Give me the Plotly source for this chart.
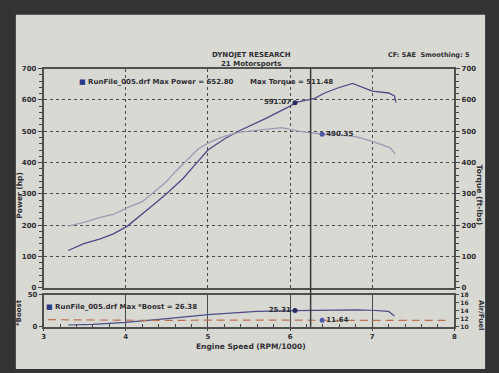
import plotly.graph_objects as go

# ---------------- data ----------------
rpm_power = [3.30, 3.49, 3.69, 3.85, 4.02, 4.20, 4.37, 4.52, 4.70, 4.85, 5.00, 5.20, 5.37, 5.70, 6.00, 6.06, 6.30, 6.42, 6.58, 6.76, 7.00, 7.20, 7.27, 7.29]
power_hp  = [119, 141, 156, 172, 197, 234, 272, 306, 350, 395, 440, 475, 500, 540, 580, 591.07, 605, 622, 638, 652.8, 628, 622, 613, 591]

rpm_torque = [3.30, 3.49, 3.69, 3.85, 4.02, 4.20, 4.33, 4.49, 4.60, 4.75, 4.88, 5.00, 5.17, 5.37, 5.60, 5.90, 6.10, 6.40, 6.60, 6.81, 7.02, 7.15, 7.22, 7.28]
torque_ftlb = [197, 209, 225, 234, 256, 275, 303, 338, 370, 410, 443, 462, 481, 496, 503, 511.48, 500, 490.35, 488, 482, 466, 455, 447, 427]

rpm_boost = [3.30, 3.60, 4.00, 4.30, 4.60, 5.00, 5.30, 5.60, 6.06, 6.40, 6.80, 7.00, 7.20, 7.27]
boost_psi = [3, 4, 7, 10, 14, 19, 22, 24, 25.31, 26, 26.38, 25.8, 24, 17]

rpm_afr = [3.05, 3.50, 4.00, 4.50, 5.00, 5.50, 6.00, 6.39, 7.00, 7.50, 7.95]
afr = [11.8, 11.7, 11.7, 11.6, 11.7, 11.7, 11.6, 11.64, 11.7, 11.6, 11.6]

cursor_rpm = 6.25
power_mark = (6.06, 591.07)
torque_mark = (6.39, 490.35)
boost_mark = (6.06, 25.31)
afr_mark = (6.39, 11.64)

x_ticks = [3, 4, 5, 6, 7, 8]
main_ticks = [0, 100, 200, 300, 400, 500, 600, 700]
boost_ticks = [0, 50]
afr_ticks = [10, 12, 14, 16, 18]

# ---------------- style ----------------
W, H = 499, 373
FONT = "DejaVu Sans"
TXT = "#2e2e34"
PWR = "#4b4b88"
TRQ = "#9a9ab4"
AFRC = "#c0704e"
PAGE = "#d9d9d3"


def px(x):
    return x / W


def py(y):
    return 1 - y / H


X_DOM = [px(42), px(457)]
MAIN_DOM = [py(290), py(66)]
BOOST_DOM = [py(330), py(297)]

fig = go.Figure()

fig.add_trace(go.Scatter(x=rpm_torque, y=torque_ftlb, mode="lines", line=dict(color=TRQ, width=1.3),
                         xaxis="x", yaxis="y2", showlegend=False, hoverinfo="skip"))
fig.add_trace(go.Scatter(x=rpm_power, y=power_hp, mode="lines", line=dict(color=PWR, width=1.3),
                         xaxis="x", yaxis="y", showlegend=False, hoverinfo="skip"))
fig.add_trace(go.Scatter(x=[power_mark[0]], y=[power_mark[1]], mode="markers+text",
                         text=[f"{power_mark[1]:.2f}"], textposition="middle left",
                         marker=dict(color="#2a2a60", size=5),
                         textfont=dict(family=FONT, size=7, color=TXT, weight="bold"),
                         xaxis="x", yaxis="y", showlegend=False, hoverinfo="skip"))
fig.add_trace(go.Scatter(x=[torque_mark[0]], y=[torque_mark[1]], mode="markers+text",
                         text=[f"{torque_mark[1]:.2f}"], textposition="middle right",
                         marker=dict(color="#4a5aa8", size=5),
                         textfont=dict(family=FONT, size=7, color=TXT, weight="bold"),
                         xaxis="x", yaxis="y2", showlegend=False, hoverinfo="skip"))

fig.add_trace(go.Scatter(x=rpm_afr, y=afr, mode="lines", line=dict(color=AFRC, width=1.2, dash="8px,5px"),
                         xaxis="x2", yaxis="y4", showlegend=False, hoverinfo="skip"))
fig.add_trace(go.Scatter(x=rpm_boost, y=boost_psi, mode="lines", line=dict(color=PWR, width=1.2),
                         xaxis="x2", yaxis="y3", showlegend=False, hoverinfo="skip"))
fig.add_trace(go.Scatter(x=[boost_mark[0]], y=[boost_mark[1]], mode="markers+text",
                         text=[f"{boost_mark[1]:.2f}"], textposition="middle left",
                         marker=dict(color="#2a2a60", size=5),
                         textfont=dict(family=FONT, size=7, color=TXT, weight="bold"),
                         xaxis="x2", yaxis="y3", showlegend=False, hoverinfo="skip"))
fig.add_trace(go.Scatter(x=[afr_mark[0]], y=[afr_mark[1]], mode="markers+text",
                         text=[f"{afr_mark[1]:.2f}"], textposition="middle right",
                         marker=dict(color="#4a5aa8", size=5),
                         textfont=dict(family=FONT, size=7, color=TXT, weight="bold"),
                         xaxis="x2", yaxis="y4", showlegend=False, hoverinfo="skip"))

tickfont = dict(family=FONT, size=7, color=TXT, weight="bold")
grid = dict(showgrid=True, gridcolor="#4a4a4a", griddash="dot", gridwidth=1)
frame = dict(showline=True, linecolor="#505050", linewidth=1.5, zeroline=False)

fig.update_layout(
    width=W, height=H, margin=dict(l=0, r=0, t=0, b=0),
    paper_bgcolor="#333333", plot_bgcolor="rgba(0,0,0,0)",
    showlegend=False,
    xaxis=dict(domain=X_DOM, range=[3, 8], anchor="y", tickvals=x_ticks, showticklabels=False,
               mirror=True, ticks="", **grid, **frame),
    yaxis=dict(domain=MAIN_DOM, range=[0, 700], anchor="x", tickvals=main_ticks, ticks="outside",
               ticklen=4, tickcolor="#444", tickfont=tickfont, mirror=True,
               minor=dict(dtick=20, ticks="outside", ticklen=3, tickcolor="#444", showgrid=False),
               **grid, **frame),
    yaxis2=dict(range=[0, 700], overlaying="y", side="right", anchor="x", tickvals=main_ticks,
                ticks="outside", ticklen=4, tickcolor="#444", tickfont=tickfont, showgrid=False,
                minor=dict(dtick=20, ticks="outside", ticklen=3, tickcolor="#444"),
                **frame),
    xaxis2=dict(domain=X_DOM, range=[3, 8], anchor="y3", tickvals=x_ticks, ticks="outside", ticklen=2,
                tickcolor="#444", tickfont=tickfont, mirror=True,
                minor=dict(dtick=0.2, ticks="inside", ticklen=3, tickcolor="#444", showgrid=False),
                showgrid=True, gridcolor="#4a4a4a", gridwidth=1, **frame),
    yaxis3=dict(domain=BOOST_DOM, range=[0, 50], anchor="x2", tickvals=boost_ticks, ticks="outside",
                ticklen=3, tickcolor="#444", tickfont=tickfont, showgrid=False, mirror=True, **frame),
    yaxis4=dict(range=[10, 18], overlaying="y3", side="right", anchor="x2", tickvals=afr_ticks,
                ticks="outside", ticklen=3, tickcolor="#444",
                tickfont=dict(family=FONT, size=6, color=TXT, weight="bold"), showgrid=False, **frame),
)

# page and cursor
fig.add_shape(type="rect", xref="paper", yref="paper", x0=px(14), x1=px(488), y0=0, y1=py(11),
              fillcolor=PAGE, line=dict(width=0), layer="below")
fig.add_shape(type="line", xref="x", yref="paper", x0=cursor_rpm, x1=cursor_rpm,
              y0=BOOST_DOM[0], y1=MAIN_DOM[1], line=dict(color="#3a3a3a", width=1.5))

ann_font = dict(family=FONT, size=7, color=TXT, weight="bold")


def ann(x, y, text, xanchor="left", size=7, angle=0):
    f = dict(ann_font)
    f["size"] = size
    fig.add_annotation(x=px(x), y=py(y), xref="paper", yref="paper", text=text, showarrow=False,
                       xanchor=xanchor, yanchor="middle", font=f, textangle=angle)


ann(252, 52, "DYNOJET RESEARCH", "center")
ann(252, 61, "21 Motorsports", "center")
ann(475, 52, "CF: SAE  Smoothing: 5", "right", size=6.5)
ann(76, 80, '<span style="color:#2a3a8a">■</span> RunFile_005.drf Max Power = 652.80')
ann(248, 80, "Max Torque = 511.48")
ann(42, 310, '<span style="color:#2a3a8a">■</span> RunFile_005.drf Max *Boost = 26.38')
ann(18, 195, "Power (hp)", "center", size=7.5, angle=-90)
ann(482, 195, "Torque (ft-lbs)", "center", size=7.5, angle=90)
ann(17, 315, "*Boost", "center", size=7, angle=-90)
ann(484, 318, "Air/Fuel", "center", size=7, angle=90)
ann(252, 350, "Engine Speed (RPM/1000)", "center", size=7.5)

fig.write_html("out.html")
